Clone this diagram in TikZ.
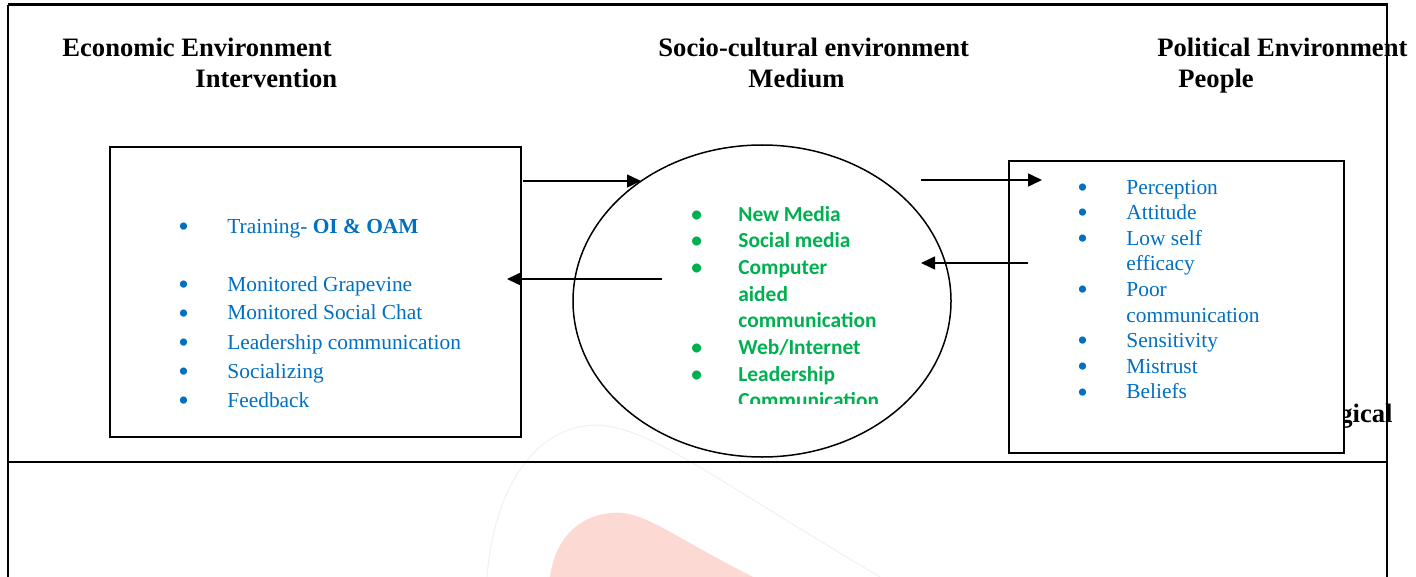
\documentclass[tikz,border=0pt]{standalone}
\usepackage{fontspec}
\setmainfont{Liberation Serif}
\newfontfamily\calibri{Carlito}
\usetikzlibrary{arrows.meta,shapes.geometric}
\definecolor{itemblue}{HTML}{0070C0}
\definecolor{itemgreen}{HTML}{00B050}
\definecolor{markpink}{HTML}{FDD9D3}
\newcommand{\listdot}{\raisebox{-1.6pt}{\fontsize{15}{10}\selectfont\textbullet}}
\tikzset{
  heading/.style={font=\fontsize{13.3}{16}\selectfont\bfseries, inner sep=0pt, anchor=base west},
  flowbox/.style={draw, line width=0.8pt, inner sep=0pt},
  flowarrow/.style={line width=0.75pt, -{Triangle[length=7pt, width=6.5pt]}}
}
\begin{document}
\begin{tikzpicture}[x=0.5pt,y=-0.5pt]
\useasboundingbox (0,0) rectangle (1416,577);
\fill[markpink] (550,577) .. controls (556,530) and (590,510) .. (623,513) .. controls (650,516) and (680,540) .. (753,577) -- cycle;
\draw[black!6, line width=0.5pt] (487,577) .. controls (495,480) and (540,425) .. (597,425) .. controls (650,428) and (700,470) .. (880,577);

\draw[line width=1.5pt] (8,5) -- (1388,5);
\draw[line width=1pt] (8,5) -- (8,577);
\draw[line width=1pt] (1387,5) -- (1387,577);
\draw[line width=1pt] (8,462) -- (1388,462);

\node[heading] (econ) at (62,57) {Economic Environment};
\node[heading] (interv) at (195,88) {Intervention};
\node[heading] (socio) at (658,57) {Socio-cultural environment};
\node[heading] (medtitle) at (748,88) {Medium};
\node[heading] (polit) at (1157,57) {Political Environment};
\node[heading] (people) at (1178,88) {People};
\node[heading, anchor=base east] (techno) at (1393,422) {gical};

\node[flowbox, fill=white, minimum width=205.5pt, minimum height=145pt] (intervbox) at (315.5,292) {};
\node[flowbox, fill=white, minimum width=167.5pt, minimum height=146pt] (peoplebox) at (1176.5,307) {};
\node[draw, ellipse, line width=0.75pt, inner sep=0pt, minimum width=189pt, minimum height=156pt] (medium) at (762,301) {};

\node[anchor=base west, inner sep=0pt, text=itemblue, font=\fontsize{10.7}{14.5}\selectfont] (intervlist) at (178,233) {\begin{tabular}[t]{@{}p{24.5pt}@{}l@{}}
\listdot & Training- \textbf{OI \& OAM} \\
 & \\
\listdot & Monitored Grapevine \\
\listdot & Monitored Social Chat \\
\listdot & Leadership communication \\
\listdot & Socializing \\
\listdot & Feedback \\
\end{tabular}};

\node[anchor=base west, inner sep=0pt, text=itemblue, font=\fontsize{10.7}{12.8}\selectfont] (peoplelist) at (1077,194) {\begin{tabular}[t]{@{}p{24.5pt}@{}l@{}}
\listdot & Perception \\
\listdot & Attitude \\
\listdot & Low self \\
 & efficacy \\
\listdot & Poor \\
 & communication \\
\listdot & Sensitivity \\
\listdot & Mistrust \\
\listdot & Beliefs \\
\end{tabular}};

\begin{scope}
\clip (600,150) rectangle (940,403);
\node[anchor=base west, inner sep=0pt, text=itemgreen, font=\calibri\fontsize{10.7}{13.35}\selectfont\bfseries] (mediumlist) at (691,221) {\begin{tabular}[t]{@{}p{23.5pt}@{}l@{}}
\textbullet & New Media \\
\textbullet & Social media \\
\textbullet & Computer \\
 & aided \\
 & communication \\
\textbullet & Web/Internet \\
\textbullet & Leadership \\
 & Communication \\
\end{tabular}};
\end{scope}

\coordinate (a1) at (523,181);
\coordinate (a2) at (641,181);
\coordinate (b1) at (662,279);
\coordinate (b2) at (507,279);
\coordinate (c1) at (921,180);
\coordinate (c2) at (1042,180);
\coordinate (d1) at (1028,263);
\coordinate (d2) at (921,263);
\draw[flowarrow] (a1) -- (a2);
\draw[flowarrow] (b1) -- (b2);
\draw[flowarrow] (c1) -- (c2);
\draw[flowarrow] (d1) -- (d2);
\end{tikzpicture}
\end{document}
